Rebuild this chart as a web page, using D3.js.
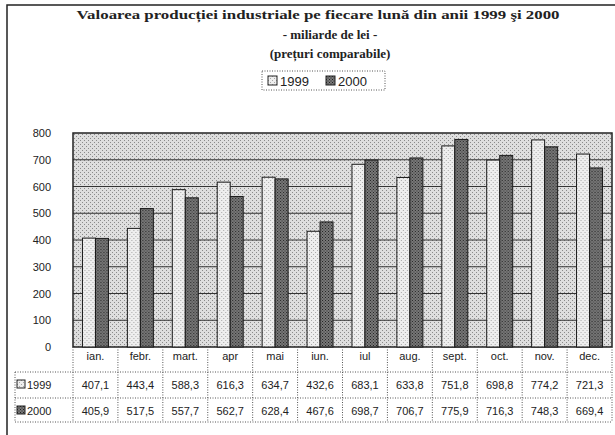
<!DOCTYPE html>
<html>
<head>
<meta charset="utf-8">
<script src="https://cdn.jsdelivr.net/npm/d3@7"></script>
<style>
  body { margin: 0; background: #fff; }
  svg { display: block; }
  .lbl { font-family: "Liberation Sans", Arial, sans-serif; font-size: 11px; fill: #222; }
  .ttl { font-family: "Liberation Serif", "DejaVu Serif", serif; font-weight: bold; font-size: 13px; fill: #222; }
</style>
</head>
<body>
<div id="vis"></div>
<script>
// data
const months = ['ian.', 'febr.', 'mart.', 'apr', 'mai', 'iun.', 'iul', 'aug.', 'sept.', 'oct.', 'nov.', 'dec.'];
const series = ['1999', '2000'];
const v1999 = [407.1, 443.4, 588.3, 616.3, 634.7, 432.6, 683.1, 633.8, 751.8, 698.8, 774.2, 721.3];
const v2000 = [405.9, 517.5, 557.7, 562.7, 628.4, 467.6, 698.7, 706.7, 775.9, 716.3, 748.3, 669.4];
const yTicks = [0, 100, 200, 300, 400, 500, 600, 700, 800];

const _w = 615, _h = 435;
const svg = d3.select('#vis').append('svg').attr('width', _w).attr('height', _h);

// patterns to fake the scanned stipple
const defs = svg.append('defs');
function stipple(id, base, dot, step) {
  const p = defs.append('pattern').attr('id', id)
    .attr('width', step * 2).attr('height', step * 2).attr('patternUnits', 'userSpaceOnUse');
  p.append('rect').attr('width', step * 2).attr('height', step * 2).attr('fill', base);
  p.append('rect').attr('x', 0).attr('y', 0).attr('width', 1).attr('height', 1).attr('fill', dot);
  p.append('rect').attr('x', step).attr('y', step).attr('width', 1).attr('height', 1).attr('fill', dot);
}
stipple('bg', '#dedede', '#8a8a8a', 2);
stipple('p99', '#eeeeee', '#a8a8a8', 2);
stipple('p00', '#7a7a7a', '#222222', 1.5);
const fills = { '1999': 'url(#p99)', '2000': 'url(#p00)' };

// outer frame (left + top)
svg.append('path').attr('d', 'M7,435 V5 H615').attr('fill', 'none').attr('stroke', '#222').attr('stroke-width', 1.5);

// titles
const titles = ['Valoarea producției industriale pe fiecare lună din anii 1999 şi 2000', '- miliarde de lei -', '(prețuri comparabile)'];
svg.selectAll('.ttl').data(titles).join('text')
  .attr('class', 'ttl')
  .attr('x', (d, i) => i === 0 ? 318 : 330).attr('y', (d, i) => 19 + i * 19.5)
  .attr('text-anchor', 'middle')
  .each(function (d, i) {
    if (i === 0) d3.select(this).attr('textLength', 483).attr('lengthAdjust', 'spacingAndGlyphs');
  })
  .text(d => d);

// legend
const leg = svg.append('g').attr('transform', 'translate(262,71)');
leg.append('rect').attr('width', 123).attr('height', 19).attr('fill', 'none')
  .attr('stroke', '#555').attr('stroke-dasharray', '1,1.5');
series.forEach((s, i) => {
  const g = leg.append('g').attr('transform', `translate(${6 + i * 58},5)`);
  g.append('rect').attr('width', 9).attr('height', 9).attr('fill', fills[s]).attr('stroke', '#222');
  g.append('text').attr('class', 'lbl').attr('x', 12).attr('y', 9.5).style('font-size', '13px').text(s);
});

// scales
const x0 = d3.scaleBand().domain(months).range([73, 612]);
const x1 = d3.scaleBand().domain(series).range([0, 26]);
const y = d3.scaleLinear().domain([0, 800]).range([347, 133]);

// plot area
svg.append('rect').attr('x', 73).attr('y', 133).attr('width', 539).attr('height', 214)
  .attr('fill', 'url(#bg)');
svg.append('g').selectAll('line').data(yTicks.slice(1, -1)).join('line')
  .attr('x1', 73).attr('x2', 612).attr('y1', d => y(d)).attr('y2', d => y(d))
  .attr('stroke', '#333').attr('stroke-width', 1);
svg.append('rect').attr('x', 73).attr('y', 133).attr('width', 539).attr('height', 214)
  .attr('fill', 'none').attr('stroke', '#222').attr('stroke-width', 1.5);

// y axis
const yAxis = svg.append('g').attr('transform', 'translate(73,0)')
  .call(d3.axisLeft(y).tickValues(yTicks).tickSize(0).tickPadding(22));
yAxis.select('.domain').remove();
yAxis.selectAll('text').attr('class', 'lbl').attr('font-family', null).attr('font-size', null);

// bars
const rows = months.map((m, i) => ({ month: m, vals: [{ s: '1999', v: v1999[i] }, { s: '2000', v: v2000[i] }] }));
svg.append('g').selectAll('g').data(rows).join('g')
  .attr('transform', d => `translate(${x0(d.month) + (x0.bandwidth() - 26) / 2},0)`)
  .selectAll('rect').data(d => d.vals).join('rect')
  .attr('x', d => x1(d.s)).attr('width', x1.bandwidth())
  .attr('y', d => y(d.v)).attr('height', d => y(0) - y(d.v))
  .attr('fill', d => fills[d.s]).attr('stroke', '#1a1a1a').attr('stroke-width', 1);

// data table
const tbl = svg.append('g');
const rowY = [347, 372, 398, 422];
const colX = [15].concat(months.map(m => x0(m)), [612]);
tbl.selectAll('.hl').data(rowY.slice(1)).join('line')
  .attr('x1', 15).attr('x2', 612).attr('y1', d => d).attr('y2', d => d)
  .attr('stroke', '#555').attr('stroke-dasharray', '1,1.5');
tbl.selectAll('.vl').data(colX).join('line')
  .attr('x1', d => d).attr('x2', d => d).attr('y1', (d, i) => i === 0 ? 372 : 347).attr('y2', 422)
  .attr('stroke', '#555').attr('stroke-dasharray', '1,1.5');

tbl.selectAll('.cat').data(months).join('text')
  .attr('class', 'lbl').attr('x', d => x0(d) + x0.bandwidth() / 2).attr('y', 360)
  .attr('text-anchor', 'middle').text(d => d);

const fmt = v => d3.format('.1f')(v).replace('.', ',');
[v1999, v2000].forEach((vals, r) => {
  const cy = rowY[r + 1] + 17;
  const key = tbl.append('g').attr('transform', `translate(17,${cy - 9})`);
  key.append('rect').attr('width', 8).attr('height', 8).attr('fill', fills[series[r]]).attr('stroke', '#222');
  key.append('text').attr('class', 'lbl').attr('x', 10).attr('y', 8.5).text(series[r]);
  tbl.selectAll('.v' + r).data(vals).join('text')
    .attr('class', 'lbl').attr('x', (d, i) => x0(months[i]) + x0.bandwidth() / 2).attr('y', cy)
    .attr('text-anchor', 'middle').text(d => fmt(d));
});
</script>
</body>
</html>
